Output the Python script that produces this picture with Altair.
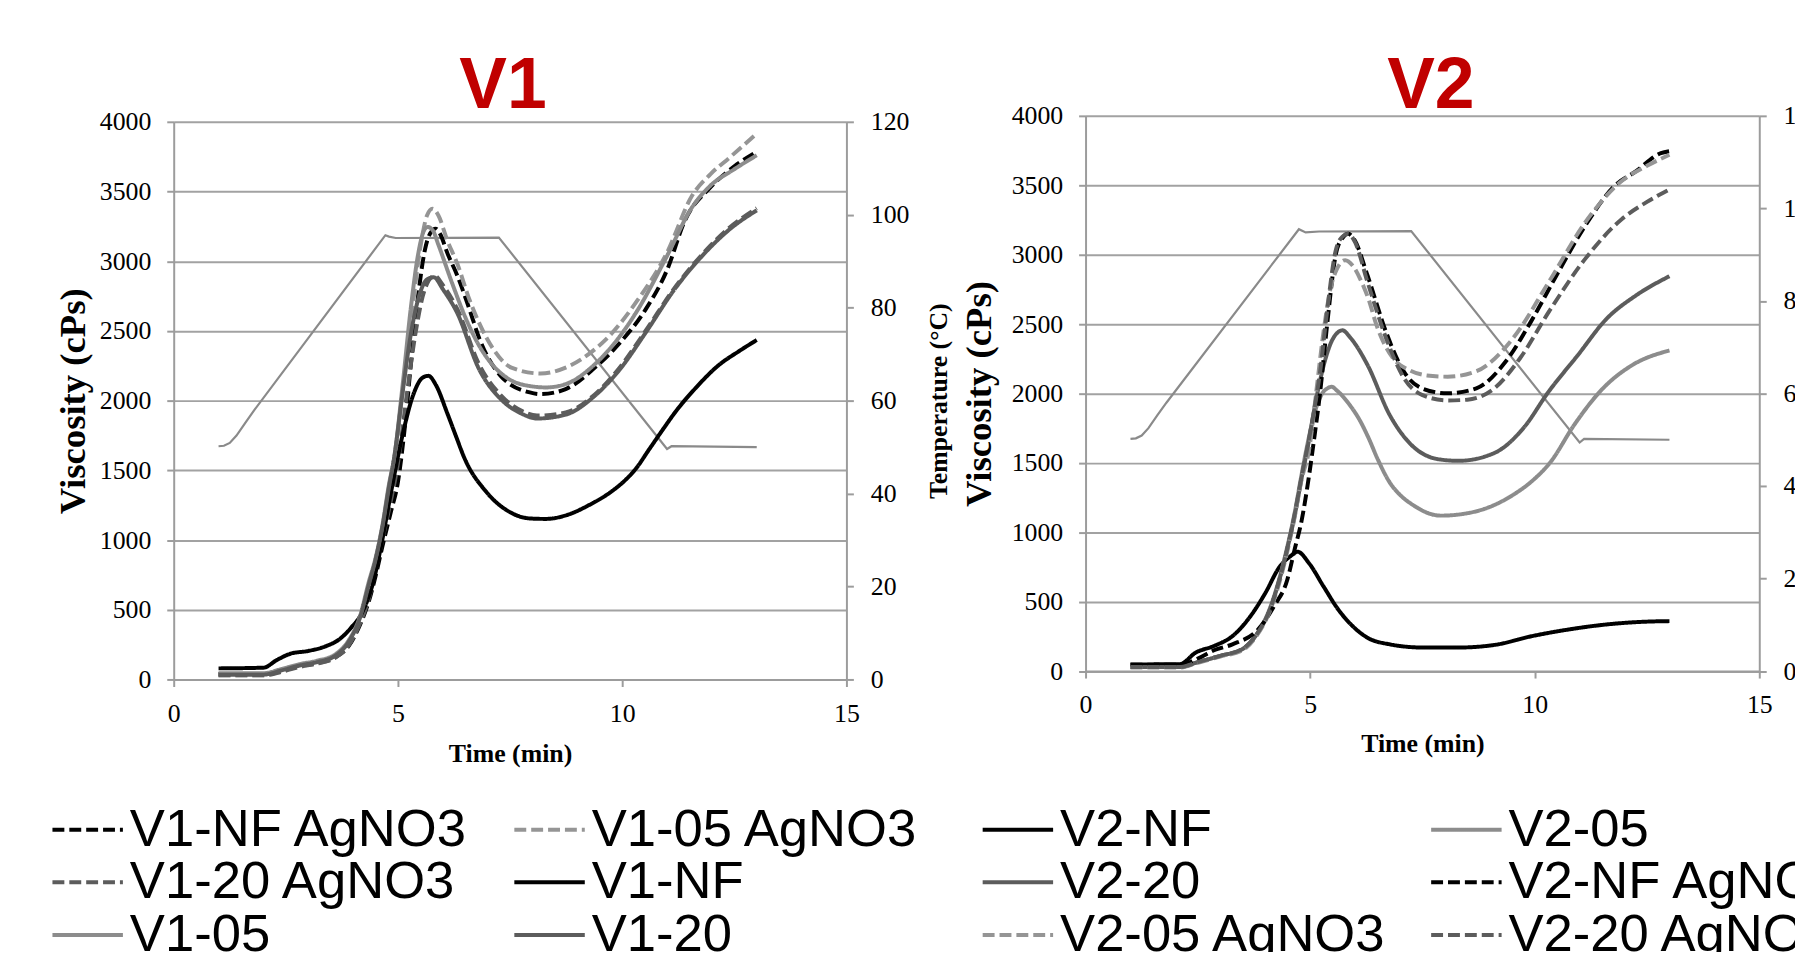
import altair as alt
import pandas as pd

# ---------------- V1 panel ----------------
v1_nf_ag_t = [1.0, 2.0, 2.4, 2.8, 3.2, 3.6, 3.9, 4.15, 4.35, 4.5, 4.65, 4.84, 5.0, 5.15, 5.3, 5.45, 5.6, 5.72, 5.84, 5.95, 6.1, 6.32, 6.6, 6.81, 7.29, 7.94, 8.18, 8.74, 9.39, 9.95, 10.52, 11.0, 11.4, 11.97, 12.5, 13.0]
v1_nf_ag_v = [40, 40, 70, 100, 120, 160, 240, 390, 560, 740, 950, 1200, 1417, 1800, 2300, 2750, 3080, 3200, 3234, 3190, 3060, 2900, 2650, 2450, 2178, 2059, 2047, 2083, 2237, 2415, 2653, 2937, 3293, 3531, 3680, 3785]

v1_05_ag_t = [1.0, 2.0, 2.4, 2.8, 3.2, 3.6, 3.9, 4.15, 4.35, 4.5, 4.65, 4.8, 4.95, 5.1, 5.3, 5.5, 5.65, 5.77, 5.9, 6.1, 6.32, 6.6, 6.81, 7.13, 7.53, 8.18, 8.74, 9.39, 9.71, 10.35, 10.99, 11.56, 11.97, 12.4, 13.0]
v1_05_ag_v = [30, 30, 60, 95, 115, 160, 250, 420, 650, 850, 1080, 1350, 1650, 2050, 2600, 3100, 3330, 3377, 3330, 3150, 2985, 2720, 2558, 2368, 2237, 2195, 2237, 2368, 2463, 2724, 3056, 3471, 3625, 3745, 3915]

v1_20_ag_t = [1.0, 2.0, 2.4, 2.8, 3.2, 3.6, 3.9, 4.15, 4.35, 4.5, 4.65, 4.84, 5.0, 5.2, 5.4, 5.6, 5.82, 6.0, 6.32, 6.81, 7.29, 7.77, 8.1, 8.74, 9.39, 9.95, 10.52, 11.16, 11.8, 12.37, 13.0]
v1_20_ag_v = [30, 30, 55, 90, 115, 155, 245, 400, 580, 780, 1000, 1280, 1550, 2050, 2500, 2800, 2895, 2830, 2660, 2260, 2040, 1925, 1893, 1915, 2045, 2240, 2500, 2805, 3055, 3235, 3380]

v1_nf_t = [1.0, 2.0, 2.3, 2.6, 3.0, 3.4, 3.7, 3.95, 4.2, 4.45, 4.65, 4.85, 5.1, 5.35, 5.55, 5.68, 5.85, 6.1, 6.3, 6.48, 6.97, 7.5, 7.95, 8.3, 8.77, 9.26, 9.75, 10.0, 10.3, 10.6, 10.9, 11.2, 11.65, 12.13, 12.61, 13.0]
v1_nf_v = [80, 85, 140, 185, 205, 240, 290, 370, 480, 700, 1000, 1350, 1750, 2050, 2165, 2178, 2110, 1910, 1740, 1590, 1346, 1200, 1155, 1152, 1180, 1251, 1346, 1410, 1510, 1650, 1790, 1925, 2095, 2249, 2356, 2435]

v1_05_t = [1.0, 2.0, 2.4, 2.8, 3.2, 3.6, 3.9, 4.15, 4.35, 4.5, 4.65, 4.8, 4.92, 5.1, 5.3, 5.45, 5.58, 5.66, 5.78, 5.9, 6.2, 6.5, 6.8, 7.1, 7.5, 7.94, 8.3, 8.74, 9.39, 9.95, 10.35, 10.99, 11.56, 11.97, 12.5, 13.0]
v1_05_v = [45, 45, 75, 110, 135, 180, 280, 450, 700, 870, 1100, 1400, 1600, 2100, 2700, 3050, 3220, 3246, 3220, 3120, 2850, 2600, 2400, 2260, 2150, 2105, 2095, 2119, 2261, 2463, 2653, 3032, 3388, 3543, 3660, 3760]

v1_20_t = [1.0, 2.0, 2.4, 2.8, 3.2, 3.6, 3.9, 4.15, 4.35, 4.5, 4.65, 4.8, 4.92, 5.1, 5.3, 5.5, 5.65, 5.8, 6.0, 6.32, 6.81, 7.29, 7.77, 8.1, 8.74, 9.39, 9.95, 10.52, 11.16, 11.8, 12.37, 13.0]
v1_20_v = [35, 35, 65, 100, 125, 170, 270, 440, 680, 860, 1090, 1380, 1600, 2050, 2500, 2780, 2870, 2885, 2800, 2630, 2225, 2012, 1905, 1872, 1900, 2035, 2225, 2486, 2795, 3044, 3222, 3365]

v1_temp_t = [1.0, 1.12, 1.25, 1.4, 1.6, 1.8, 4.72, 4.8, 4.95, 7.25, 11.0, 11.1, 13.0]
v1_temp_c = [50.2, 50.3, 50.9, 52.5, 55.3, 58.0, 95.6, 95.3, 95.0, 95.1, 49.6, 50.2, 50.0]

# ---------------- V2 panel ----------------
v2_nf_t = [1.0, 2.1, 2.45, 2.86, 3.27, 3.67, 4.0, 4.32, 4.57, 4.72, 4.98, 5.3, 5.63, 5.95, 6.28, 6.77, 7.5, 8.31, 9.13, 9.94, 10.76, 11.57, 12.39, 13.0]
v2_nf_v = [48, 50, 133, 181, 252, 395, 561, 751, 830, 860, 775, 609, 442, 323, 240, 193, 170, 170, 190, 252, 300, 335, 355, 360]

v2_05_t = [1.0, 2.1, 2.5, 3.0, 3.5, 3.8, 4.1, 4.3, 4.49, 4.65, 4.81, 4.95, 5.1, 5.25, 5.4, 5.48, 5.6, 5.88, 6.1, 6.3, 6.5, 6.77, 7.0, 7.26, 7.91, 8.4, 8.97, 9.54, 9.94, 10.35, 10.88, 11.52, 12.17, 13.0]
v2_05_v = [30, 30, 65, 110, 160, 260, 450, 650, 894, 1132, 1417, 1650, 1860, 1990, 2040, 2049, 2020, 1918, 1810, 1680, 1530, 1360, 1270, 1203, 1120, 1132, 1179, 1274, 1369, 1505, 1774, 2037, 2204, 2310]

v2_20_t = [1.0, 2.1, 2.5, 3.0, 3.5, 3.8, 4.1, 4.3, 4.49, 4.65, 4.81, 4.95, 5.1, 5.3, 5.5, 5.72, 5.9, 6.28, 6.77, 7.25, 7.9, 8.3, 9.1, 9.75, 10.31, 10.96, 11.6, 12.25, 13.0]
v2_20_v = [30, 30, 65, 110, 160, 260, 440, 640, 880, 1110, 1390, 1620, 1900, 2200, 2390, 2455, 2400, 2204, 1846, 1631, 1524, 1515, 1571, 1751, 2013, 2276, 2538, 2705, 2845]

v2_nf_ag_t = [1.0, 2.1, 2.5, 2.86, 3.27, 3.84, 4.2, 4.49, 4.65, 4.81, 4.98, 5.1, 5.22, 5.38, 5.57, 5.72, 5.85, 5.98, 6.28, 6.69, 7.09, 7.49, 8.06, 8.7, 9.35, 9.91, 10.48, 11.12, 11.77, 12.25, 12.81, 13.0]
v2_nf_ag_v = [45, 45, 90, 150, 193, 300, 470, 656, 870, 1084, 1417, 1700, 2000, 2500, 3000, 3120, 3150, 3110, 2848, 2443, 2156, 2037, 2001, 2037, 2228, 2514, 2848, 3206, 3493, 3600, 3731, 3745]

v2_05_ag_t = [1.0, 2.1, 2.5, 3.0, 3.5, 3.8, 4.1, 4.3, 4.49, 4.65, 4.81, 4.98, 5.15, 5.3, 5.45, 5.6, 5.78, 5.95, 6.15, 6.3, 6.48, 6.85, 7.2, 7.6, 8.06, 8.7, 9.51, 10.31, 11.12, 11.93, 12.5, 13.0]
v2_05_ag_v = [25, 25, 60, 105, 150, 250, 430, 620, 860, 1100, 1380, 1600, 2050, 2450, 2750, 2900, 2960, 2920, 2800, 2680, 2490, 2252, 2170, 2130, 2121, 2160, 2395, 2801, 3230, 3529, 3640, 3720]

v2_20_ag_t = [1.0, 2.1, 2.5, 3.0, 3.5, 3.8, 4.1, 4.3, 4.49, 4.65, 4.81, 4.98, 5.1, 5.22, 5.38, 5.57, 5.72, 5.85, 6.0, 6.28, 6.69, 7.09, 7.49, 8.06, 8.5, 9.1, 9.67, 10.31, 11.12, 11.93, 12.5, 13.0]
v2_20_ag_v = [30, 30, 65, 110, 160, 260, 440, 640, 880, 1120, 1400, 1680, 1900, 2150, 2600, 3030, 3130, 3150, 3090, 2800, 2400, 2110, 1990, 1950, 1955, 2037, 2252, 2586, 2968, 3254, 3380, 3470]

v2_temp_t = [1.0, 1.12, 1.25, 1.4, 1.6, 1.8, 4.75, 4.9, 5.2, 7.25, 11.0, 11.1, 13.0]
v2_temp_c = [50.2, 50.3, 50.9, 52.5, 55.3, 58.0, 95.5, 94.8, 95.0, 95.1, 49.4, 50.2, 50.0]

# legend order: entries fill column by column (3 rows x 2 columns)
v1_names = ["V1-NF AgNO3", "V1-20 AgNO3", "V1-05", "V1-05 AgNO3", "V1-NF", "V1-20"]
v2_names = ["V2-NF", "V2-20", "V2-05 AgNO3", "V2-05", "V2-NF AgNO3", "V2-20 AgNO3"]

BLACK, DARK, LIGHT, LIGHTD = "#000000", "#5c5c5c", "#8c8c8c", "#959595"
DASH, SOLID = [12, 5], [1, 0]

v1_colors = [BLACK, DARK, LIGHT, LIGHTD, BLACK, DARK]
v1_dashes = [DASH, DASH, SOLID, DASH, SOLID, SOLID]
v2_colors = [BLACK, DARK, LIGHTD, LIGHT, BLACK, DARK]
v2_dashes = [SOLID, SOLID, DASH, SOLID, DASH, DASH]

v1_series = {
    "V1-NF AgNO3": (v1_nf_ag_t, v1_nf_ag_v),
    "V1-05 AgNO3": (v1_05_ag_t, v1_05_ag_v),
    "V1-20 AgNO3": (v1_20_ag_t, v1_20_ag_v),
    "V1-NF": (v1_nf_t, v1_nf_v),
    "V1-05": (v1_05_t, v1_05_v),
    "V1-20": (v1_20_t, v1_20_v),
}
v2_series = {
    "V2-NF": (v2_nf_t, v2_nf_v),
    "V2-05": (v2_05_t, v2_05_v),
    "V2-20": (v2_20_t, v2_20_v),
    "V2-NF AgNO3": (v2_nf_ag_t, v2_nf_ag_v),
    "V2-05 AgNO3": (v2_05_ag_t, v2_05_ag_v),
    "V2-20 AgNO3": (v2_20_ag_t, v2_20_ag_v),
}


def long_frame(series):
    rows = []
    for name, (ts, vs) in series.items():
        for i, (t, v) in enumerate(zip(ts, vs)):
            rows.append({"series": name, "t": t, "v": v, "i": i})
    return pd.DataFrame(rows)


AX_GRAY = "#9c9c9c"
GRID_GRAY = "#a2a2a2"


def panel(series, temp_t, temp_c, names, colors, dashes, title, title_dx,
          title_offset, w, h, top_gap, visc_title_pad, time_title_pad,
          legend_x, legend_y, col_pad):
    df = long_frame(series)
    dft = pd.DataFrame({"t": temp_t, "c": temp_c})
    yrange = [h, top_gap]

    x = alt.X("t:Q", scale=alt.Scale(domain=[0, 15], nice=False),
              axis=alt.Axis(values=[0, 5, 10, 15], title="Time (min)", grid=False,
                            labelPadding=14, titlePadding=time_title_pad,
                            titleFontSize=26))

    leg = alt.Legend(title=None, orient="none", legendX=legend_x, legendY=legend_y,
                     columns=2, direction="vertical", symbolType="stroke",
                     symbolSize=5041, symbolStrokeWidth=4, labelFont="Liberation Sans",
                     labelFontSize=53, labelColor="#000000", labelLimit=700,
                     labelOffset=5, clipHeight=52, rowPadding=0,
                     columnPadding=col_pad, padding=0)

    temp = alt.Chart(dft).mark_line(color="#8a8a8a", strokeWidth=2.2).encode(
        x=x,
        y=alt.Y("c:Q", scale=alt.Scale(domain=[0, 120], nice=False, range=yrange),
                axis=alt.Axis(orient="right", values=[0, 20, 40, 60, 80, 100, 120],
                              format="d", title="Temperature (°C)", titleAngle=270,
                              titleBaseline="top", titleFontSize=26, titlePadding=16.5,
                              grid=False, labelPadding=17, labelAlign="left")),
    )

    visc = alt.Chart(df).mark_line(strokeWidth=4, interpolate="monotone").encode(
        x=x,
        y=alt.Y("v:Q", scale=alt.Scale(domain=[0, 4000], nice=False, range=yrange),
                axis=alt.Axis(values=list(range(0, 4001, 500)), format="d",
                              title="Viscosity (cPs)",
                              grid=True, gridColor=GRID_GRAY, gridWidth=2,
                              titleFontSize=37, titlePadding=visc_title_pad,
                              labelPadding=16)),
        color=alt.Color("series:N", scale=alt.Scale(domain=names, range=colors), legend=leg),
        strokeDash=alt.StrokeDash("series:N", scale=alt.Scale(domain=names, range=dashes),
                                  legend=leg),
        order="i:Q",
    )

    return alt.layer(temp, visc).resolve_scale(y="independent").properties(
        width=w, height=h,
        title=alt.TitleParams(title, fontSize=72, font="Liberation Sans", fontWeight="bold",
                              color="#c00000", anchor="middle", frame="group",
                              baseline="alphabetic", offset=title_offset, dx=title_dx),
    )


# V1 plot area sits 6px lower than V2's (empty strip at the top of its view)
p1 = panel(v1_series, v1_temp_t, v1_temp_c, v1_names, v1_colors, v1_dashes, "V1",
           -7.2, -71.5, 678, 568.1, 6, 6.5, 15, -124.2, 693.5, 43.5)
p2 = panel(v2_series, v2_temp_t, v2_temp_c, v2_names, v2_colors, v2_dashes, "V2",
           8.5, -77.5, 679, 559.6, 0, 13, 13, -105.7, 693.5, 42)

# the reference is cropped on the right and bottom; negative padding crops likewise
chart = alt.hconcat(p1, p2, spacing=241, bounds="flush").resolve_scale(
    color="independent", strokeDash="independent"
).properties(
    padding={"left": 42, "top": 39, "right": -70, "bottom": -14}
).configure_view(stroke=None).configure_axis(
    labelFont="Liberation Serif", labelFontSize=26, labelColor="#000000",
    titleFont="Liberation Serif", titleFontWeight="bold", titleColor="#000000",
    domainColor=AX_GRAY, domainWidth=2, tickColor=AX_GRAY, tickWidth=2, tickSize=7,
    labelFlush=False,
)

chart.save("out.html", embed_options={"renderer": "svg", "actions": False})
